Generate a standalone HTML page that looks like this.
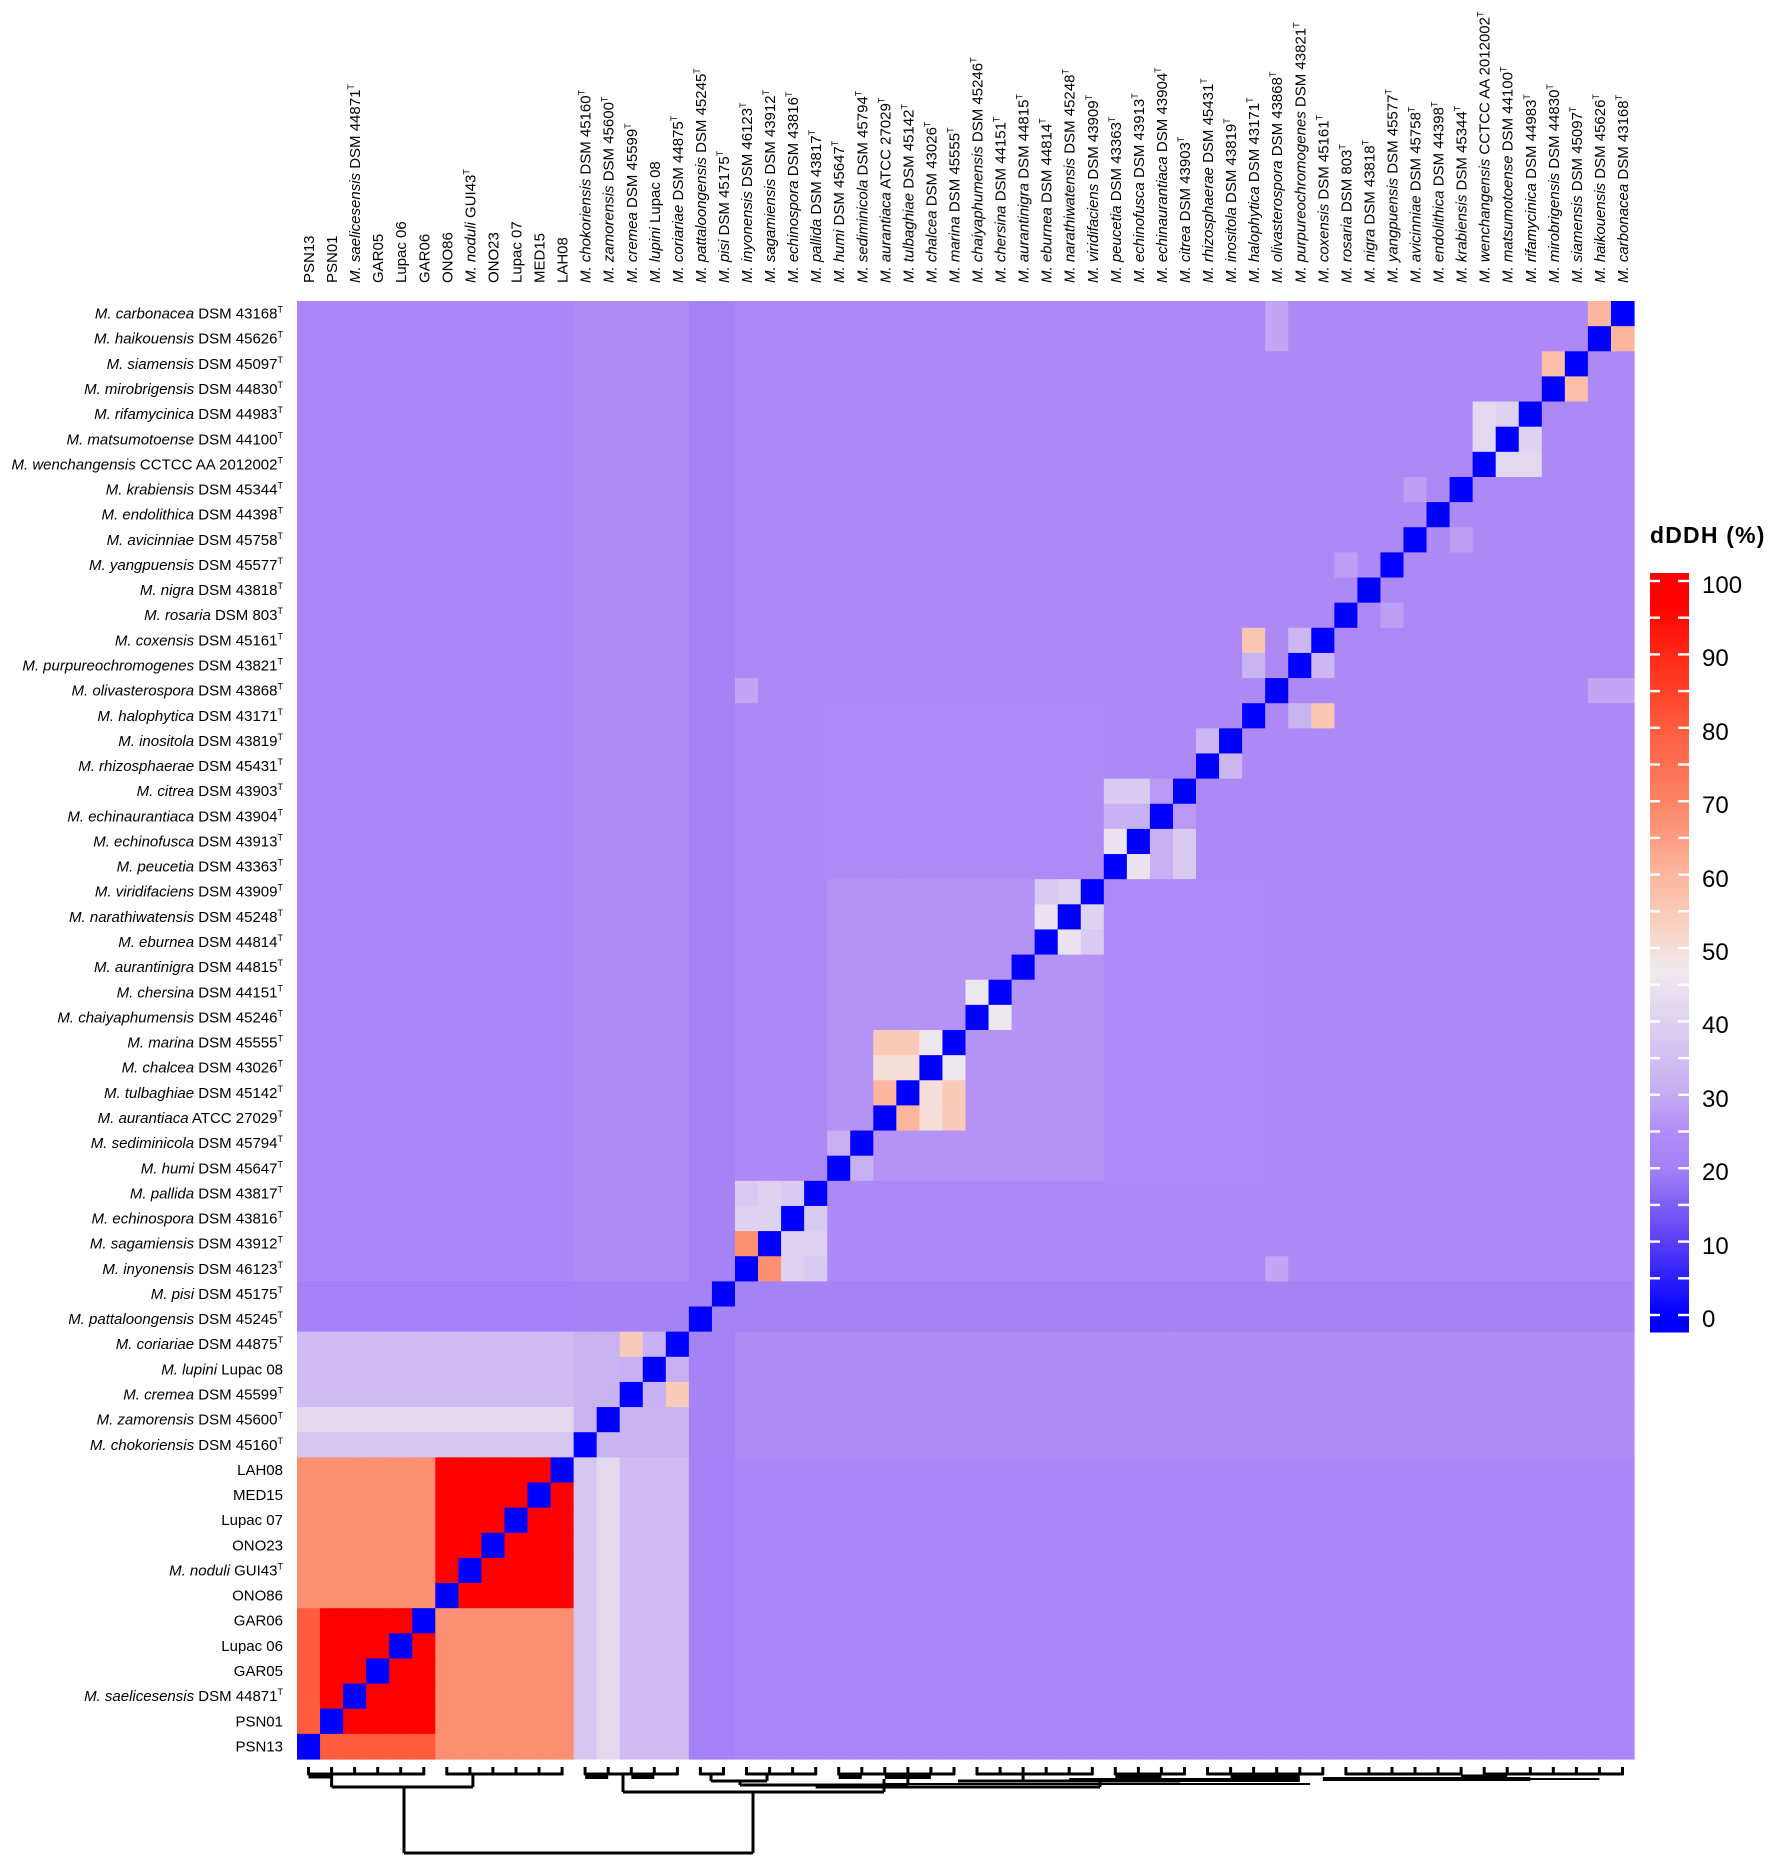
<!DOCTYPE html>
<html><head><meta charset="utf-8">
<style>
html,body{margin:0;padding:0;background:#fff;}
svg{display:block;}
text{font-family:"Liberation Sans",Arial,sans-serif;fill:#000;}
.rl{font-size:15px;text-anchor:end;}
.cl{font-size:15px;}
</style></head>
<body>
<svg id="s" width="1772" height="1857" viewBox="0 0 1772 1857" xmlns="http://www.w3.org/2000/svg">
<g id="cells"></g>
<g id="dend" stroke="#000" stroke-width="3" fill="none"></g>
<g id="cbar"></g>
<text x="1650" y="543" style="font-size:23px;font-weight:bold;letter-spacing:1.2px">dDDH (%)</text>
<g style="font-size:24px">
<text x="1702" y="593">100</text>
<text x="1702" y="666">90</text>
<text x="1702" y="740">80</text>
<text x="1702" y="813">70</text>
<text x="1702" y="887">60</text>
<text x="1702" y="960">50</text>
<text x="1702" y="1033">40</text>
<text x="1702" y="1107">30</text>
<text x="1702" y="1180">20</text>
<text x="1702" y="1254">10</text>
<text x="1702" y="1327">0</text>
</g>
<g id="rows" class="rl">
<text><tspan font-style="italic">M. carbonacea</tspan> DSM 43168<tspan font-size="9" dy="-6">T</tspan></text>
<text><tspan font-style="italic">M. haikouensis</tspan> DSM 45626<tspan font-size="9" dy="-6">T</tspan></text>
<text><tspan font-style="italic">M. siamensis</tspan> DSM 45097<tspan font-size="9" dy="-6">T</tspan></text>
<text><tspan font-style="italic">M. mirobrigensis</tspan> DSM 44830<tspan font-size="9" dy="-6">T</tspan></text>
<text><tspan font-style="italic">M. rifamycinica</tspan> DSM 44983<tspan font-size="9" dy="-6">T</tspan></text>
<text><tspan font-style="italic">M. matsumotoense</tspan> DSM 44100<tspan font-size="9" dy="-6">T</tspan></text>
<text><tspan font-style="italic">M. wenchangensis</tspan> CCTCC AA 2012002<tspan font-size="9" dy="-6">T</tspan></text>
<text><tspan font-style="italic">M. krabiensis</tspan> DSM 45344<tspan font-size="9" dy="-6">T</tspan></text>
<text><tspan font-style="italic">M. endolithica</tspan> DSM 44398<tspan font-size="9" dy="-6">T</tspan></text>
<text><tspan font-style="italic">M. avicinniae</tspan> DSM 45758<tspan font-size="9" dy="-6">T</tspan></text>
<text><tspan font-style="italic">M. yangpuensis</tspan> DSM 45577<tspan font-size="9" dy="-6">T</tspan></text>
<text><tspan font-style="italic">M. nigra</tspan> DSM 43818<tspan font-size="9" dy="-6">T</tspan></text>
<text><tspan font-style="italic">M. rosaria</tspan> DSM 803<tspan font-size="9" dy="-6">T</tspan></text>
<text><tspan font-style="italic">M. coxensis</tspan> DSM 45161<tspan font-size="9" dy="-6">T</tspan></text>
<text><tspan font-style="italic">M. purpureochromogenes</tspan> DSM 43821<tspan font-size="9" dy="-6">T</tspan></text>
<text><tspan font-style="italic">M. olivasterospora</tspan> DSM 43868<tspan font-size="9" dy="-6">T</tspan></text>
<text><tspan font-style="italic">M. halophytica</tspan> DSM 43171<tspan font-size="9" dy="-6">T</tspan></text>
<text><tspan font-style="italic">M. inositola</tspan> DSM 43819<tspan font-size="9" dy="-6">T</tspan></text>
<text><tspan font-style="italic">M. rhizosphaerae</tspan> DSM 45431<tspan font-size="9" dy="-6">T</tspan></text>
<text><tspan font-style="italic">M. citrea</tspan> DSM 43903<tspan font-size="9" dy="-6">T</tspan></text>
<text><tspan font-style="italic">M. echinaurantiaca</tspan> DSM 43904<tspan font-size="9" dy="-6">T</tspan></text>
<text><tspan font-style="italic">M. echinofusca</tspan> DSM 43913<tspan font-size="9" dy="-6">T</tspan></text>
<text><tspan font-style="italic">M. peucetia</tspan> DSM 43363<tspan font-size="9" dy="-6">T</tspan></text>
<text><tspan font-style="italic">M. viridifaciens</tspan> DSM 43909<tspan font-size="9" dy="-6">T</tspan></text>
<text><tspan font-style="italic">M. narathiwatensis</tspan> DSM 45248<tspan font-size="9" dy="-6">T</tspan></text>
<text><tspan font-style="italic">M. eburnea</tspan> DSM 44814<tspan font-size="9" dy="-6">T</tspan></text>
<text><tspan font-style="italic">M. aurantinigra</tspan> DSM 44815<tspan font-size="9" dy="-6">T</tspan></text>
<text><tspan font-style="italic">M. chersina</tspan> DSM 44151<tspan font-size="9" dy="-6">T</tspan></text>
<text><tspan font-style="italic">M. chaiyaphumensis</tspan> DSM 45246<tspan font-size="9" dy="-6">T</tspan></text>
<text><tspan font-style="italic">M. marina</tspan> DSM 45555<tspan font-size="9" dy="-6">T</tspan></text>
<text><tspan font-style="italic">M. chalcea</tspan> DSM 43026<tspan font-size="9" dy="-6">T</tspan></text>
<text><tspan font-style="italic">M. tulbaghiae</tspan> DSM 45142<tspan font-size="9" dy="-6">T</tspan></text>
<text><tspan font-style="italic">M. aurantiaca</tspan> ATCC 27029<tspan font-size="9" dy="-6">T</tspan></text>
<text><tspan font-style="italic">M. sediminicola</tspan> DSM 45794<tspan font-size="9" dy="-6">T</tspan></text>
<text><tspan font-style="italic">M. humi</tspan> DSM 45647<tspan font-size="9" dy="-6">T</tspan></text>
<text><tspan font-style="italic">M. pallida</tspan> DSM 43817<tspan font-size="9" dy="-6">T</tspan></text>
<text><tspan font-style="italic">M. echinospora</tspan> DSM 43816<tspan font-size="9" dy="-6">T</tspan></text>
<text><tspan font-style="italic">M. sagamiensis</tspan> DSM 43912<tspan font-size="9" dy="-6">T</tspan></text>
<text><tspan font-style="italic">M. inyonensis</tspan> DSM 46123<tspan font-size="9" dy="-6">T</tspan></text>
<text><tspan font-style="italic">M. pisi</tspan> DSM 45175<tspan font-size="9" dy="-6">T</tspan></text>
<text><tspan font-style="italic">M. pattaloongensis</tspan> DSM 45245<tspan font-size="9" dy="-6">T</tspan></text>
<text><tspan font-style="italic">M. coriariae</tspan> DSM 44875<tspan font-size="9" dy="-6">T</tspan></text>
<text><tspan font-style="italic">M. lupini</tspan> Lupac 08</text>
<text><tspan font-style="italic">M. cremea</tspan> DSM 45599<tspan font-size="9" dy="-6">T</tspan></text>
<text><tspan font-style="italic">M. zamorensis</tspan> DSM 45600<tspan font-size="9" dy="-6">T</tspan></text>
<text><tspan font-style="italic">M. chokoriensis</tspan> DSM 45160<tspan font-size="9" dy="-6">T</tspan></text>
<text>LAH08</text>
<text>MED15</text>
<text>Lupac 07</text>
<text>ONO23</text>
<text><tspan font-style="italic">M. noduli</tspan> GUI43<tspan font-size="9" dy="-6">T</tspan></text>
<text>ONO86</text>
<text>GAR06</text>
<text>Lupac 06</text>
<text>GAR05</text>
<text><tspan font-style="italic">M. saelicesensis</tspan> DSM 44871<tspan font-size="9" dy="-6">T</tspan></text>
<text>PSN01</text>
<text>PSN13</text>
</g>
<g id="cols" class="cl">
<text>PSN13</text>
<text>PSN01</text>
<text><tspan font-style="italic">M. saelicesensis</tspan> DSM 44871<tspan font-size="9" dy="-6">T</tspan></text>
<text>GAR05</text>
<text>Lupac 06</text>
<text>GAR06</text>
<text>ONO86</text>
<text><tspan font-style="italic">M. noduli</tspan> GUI43<tspan font-size="9" dy="-6">T</tspan></text>
<text>ONO23</text>
<text>Lupac 07</text>
<text>MED15</text>
<text>LAH08</text>
<text><tspan font-style="italic">M. chokoriensis</tspan> DSM 45160<tspan font-size="9" dy="-6">T</tspan></text>
<text><tspan font-style="italic">M. zamorensis</tspan> DSM 45600<tspan font-size="9" dy="-6">T</tspan></text>
<text><tspan font-style="italic">M. cremea</tspan> DSM 45599<tspan font-size="9" dy="-6">T</tspan></text>
<text><tspan font-style="italic">M. lupini</tspan> Lupac 08</text>
<text><tspan font-style="italic">M. coriariae</tspan> DSM 44875<tspan font-size="9" dy="-6">T</tspan></text>
<text><tspan font-style="italic">M. pattaloongensis</tspan> DSM 45245<tspan font-size="9" dy="-6">T</tspan></text>
<text><tspan font-style="italic">M. pisi</tspan> DSM 45175<tspan font-size="9" dy="-6">T</tspan></text>
<text><tspan font-style="italic">M. inyonensis</tspan> DSM 46123<tspan font-size="9" dy="-6">T</tspan></text>
<text><tspan font-style="italic">M. sagamiensis</tspan> DSM 43912<tspan font-size="9" dy="-6">T</tspan></text>
<text><tspan font-style="italic">M. echinospora</tspan> DSM 43816<tspan font-size="9" dy="-6">T</tspan></text>
<text><tspan font-style="italic">M. pallida</tspan> DSM 43817<tspan font-size="9" dy="-6">T</tspan></text>
<text><tspan font-style="italic">M. humi</tspan> DSM 45647<tspan font-size="9" dy="-6">T</tspan></text>
<text><tspan font-style="italic">M. sediminicola</tspan> DSM 45794<tspan font-size="9" dy="-6">T</tspan></text>
<text><tspan font-style="italic">M. aurantiaca</tspan> ATCC 27029<tspan font-size="9" dy="-6">T</tspan></text>
<text><tspan font-style="italic">M. tulbaghiae</tspan> DSM 45142<tspan font-size="9" dy="-6">T</tspan></text>
<text><tspan font-style="italic">M. chalcea</tspan> DSM 43026<tspan font-size="9" dy="-6">T</tspan></text>
<text><tspan font-style="italic">M. marina</tspan> DSM 45555<tspan font-size="9" dy="-6">T</tspan></text>
<text><tspan font-style="italic">M. chaiyaphumensis</tspan> DSM 45246<tspan font-size="9" dy="-6">T</tspan></text>
<text><tspan font-style="italic">M. chersina</tspan> DSM 44151<tspan font-size="9" dy="-6">T</tspan></text>
<text><tspan font-style="italic">M. aurantinigra</tspan> DSM 44815<tspan font-size="9" dy="-6">T</tspan></text>
<text><tspan font-style="italic">M. eburnea</tspan> DSM 44814<tspan font-size="9" dy="-6">T</tspan></text>
<text><tspan font-style="italic">M. narathiwatensis</tspan> DSM 45248<tspan font-size="9" dy="-6">T</tspan></text>
<text><tspan font-style="italic">M. viridifaciens</tspan> DSM 43909<tspan font-size="9" dy="-6">T</tspan></text>
<text><tspan font-style="italic">M. peucetia</tspan> DSM 43363<tspan font-size="9" dy="-6">T</tspan></text>
<text><tspan font-style="italic">M. echinofusca</tspan> DSM 43913<tspan font-size="9" dy="-6">T</tspan></text>
<text><tspan font-style="italic">M. echinaurantiaca</tspan> DSM 43904<tspan font-size="9" dy="-6">T</tspan></text>
<text><tspan font-style="italic">M. citrea</tspan> DSM 43903<tspan font-size="9" dy="-6">T</tspan></text>
<text><tspan font-style="italic">M. rhizosphaerae</tspan> DSM 45431<tspan font-size="9" dy="-6">T</tspan></text>
<text><tspan font-style="italic">M. inositola</tspan> DSM 43819<tspan font-size="9" dy="-6">T</tspan></text>
<text><tspan font-style="italic">M. halophytica</tspan> DSM 43171<tspan font-size="9" dy="-6">T</tspan></text>
<text><tspan font-style="italic">M. olivasterospora</tspan> DSM 43868<tspan font-size="9" dy="-6">T</tspan></text>
<text><tspan font-style="italic">M. purpureochromogenes</tspan> DSM 43821<tspan font-size="9" dy="-6">T</tspan></text>
<text><tspan font-style="italic">M. coxensis</tspan> DSM 45161<tspan font-size="9" dy="-6">T</tspan></text>
<text><tspan font-style="italic">M. rosaria</tspan> DSM 803<tspan font-size="9" dy="-6">T</tspan></text>
<text><tspan font-style="italic">M. nigra</tspan> DSM 43818<tspan font-size="9" dy="-6">T</tspan></text>
<text><tspan font-style="italic">M. yangpuensis</tspan> DSM 45577<tspan font-size="9" dy="-6">T</tspan></text>
<text><tspan font-style="italic">M. avicinniae</tspan>  DSM  45758<tspan font-size="9" dy="-6">T</tspan></text>
<text><tspan font-style="italic">M. endolithica</tspan>  DSM  44398<tspan font-size="9" dy="-6">T</tspan></text>
<text><tspan font-style="italic">M. krabiensis</tspan> DSM 45344<tspan font-size="9" dy="-6">T</tspan></text>
<text><tspan font-style="italic">M. wenchangensis</tspan> CCTCC AA 2012002<tspan font-size="9" dy="-6">T</tspan></text>
<text><tspan font-style="italic">M. matsumotoense</tspan> DSM 44100<tspan font-size="9" dy="-6">T</tspan></text>
<text><tspan font-style="italic">M. rifamycinica</tspan> DSM 44983<tspan font-size="9" dy="-6">T</tspan></text>
<text><tspan font-style="italic">M. mirobrigensis</tspan> DSM 44830<tspan font-size="9" dy="-6">T</tspan></text>
<text><tspan font-style="italic">M. siamensis</tspan> DSM 45097<tspan font-size="9" dy="-6">T</tspan></text>
<text><tspan font-style="italic">M. haikouensis</tspan> DSM 45626<tspan font-size="9" dy="-6">T</tspan></text>
<text><tspan font-style="italic">M. carbonacea</tspan> DSM 43168<tspan font-size="9" dy="-6">T</tspan></text>
</g>
</svg>
<script>
(function(){
var X0=297,Y0=301,CW=(1634-297)/58,RH=(1759-301)/58,N=58;
function cx(i){return X0+CW*(i+0.5);}
document.querySelectorAll('#rows text').forEach(function(t,r){t.setAttribute('x',283);t.setAttribute('y',(Y0+RH*(r+0.5)+5).toFixed(1));});
document.querySelectorAll('#cols text').forEach(function(t,c){t.setAttribute('transform','translate('+(cx(c)+5.5).toFixed(1)+',283) rotate(-90)');});
var A=[[0,[0,0,255]],[10,[90,62,246]],[20,[162,130,245]],[25,[177,140,246]],[30,[196,172,243]],[40,[221,210,240]],[47,[240,234,238]],[52,[247,214,200]],[60,[252,182,158]],[70,[252,132,102]],[80,[255,92,62]],[90,[255,40,22]],[97,[255,0,0]],[100,[255,0,0]]];
function col(v){for(var k=1;k<A.length;k++){if(v<=A[k][0]){var a=A[k-1],b=A[k],t=(v-a[0])/(b[0]-a[0]);return 'rgb('+[0,1,2].map(function(q){return Math.round(a[1][q]+(b[1][q]-a[1][q])*t);}).join(',')+')';}}return 'rgb(255,0,0)';}
var P={};
function sp(a,b,v){P[Math.min(a,b)+'_'+Math.max(a,b)]=v;}
sp(25,26,60);sp(25,27,50);sp(26,27,50);sp(25,28,55);sp(26,28,55);sp(27,28,46);
sp(29,30,46);sp(32,33,45);sp(33,34,40);sp(32,34,38);
sp(35,36,45);sp(35,38,38);sp(36,38,38);sp(37,35,31);sp(37,36,31);
sp(39,40,33);sp(41,44,56);sp(41,43,32);sp(43,44,33);
sp(51,52,42);sp(51,53,42);sp(52,53,40);sp(54,55,58);sp(56,57,60);
sp(19,20,68);sp(19,21,40);sp(19,22,38);sp(20,21,40);sp(20,22,40);sp(21,22,38);
sp(23,24,31);sp(42,57,29);sp(42,56,29);sp(19,42,29);sp(45,47,28);sp(48,50,28);
function val(i,j){
 if(i==j)return 0;
 var a=Math.min(i,j),b=Math.max(i,j);
 if(P[a+'_'+b]!==undefined)return P[a+'_'+b];
 if(b<=5)return a==0?80:97;
 if(a>=6&&b<=11)return 97;
 if(a<=5&&b<=11)return 68;
 if(a<=11){if(b==12)return 37;if(b==13)return 42;if(b<=16)return 34;if(b<=18)return 20;return 22.5;}
 if(a<=16){if(b<=16){if(a==14&&b==16)return 55;if(a==12||a==13)return 32;return 31;}if(b<=18)return 20.5;return 24.5;}
 if(a<=18)return 20.5;
 if(a>=23&&b<=34){return 26;}
 if(a>=35&&b<=38)return 27;
 if(a>=19&&b<=22)return 34;
 if(a>=23&&a<=34&&b<=41)return 24;
 return 23.5;
}
var h='';
for(var r=0;r<N;r++){var i=N-1-r;for(var c=0;c<N;c++){
 h+='<rect x="'+(X0+c*CW).toFixed(2)+'" y="'+(Y0+r*RH).toFixed(2)+'" width="'+(CW+0.6).toFixed(2)+'" height="'+(RH+0.6).toFixed(2)+'" fill="'+col(val(i,c))+'"/>';}}
document.getElementById('cells').innerHTML=h;
var cb='',top=573,bot=1332,y100=581,y0=1315;
for(var y=top;y<bot;y+=3){var v=100-(y+1.5-y100)/(y0-y100)*100;v=Math.max(0,Math.min(100,v));cb+='<rect x="1650" y="'+y+'" width="39" height="3.5" fill="'+col(v)+'"/>';}
for(var k=0;k<=20;k++){var yy=y100+k*(y0-y100)/20;cb+='<rect x="1650" y="'+(yy-1.2)+'" width="10" height="2.4" fill="#fff"/><rect x="1678" y="'+(yy-1.2)+'" width="11" height="2.4" fill="#fff"/>';}
document.getElementById('cbar').innerHTML=cb;
var d='';
function L(x1,y1,x2,y2,w){d+='<line x1="'+x1.toFixed(1)+'" y1="'+y1+'" x2="'+x2.toFixed(1)+'" y2="'+y2+'"'+(w?' stroke-width="'+w+'"':'')+'/>';}
for(var c=0;c<N;c++)L(cx(c),1767,cx(c),1775);
[[0,5],[6,11],[12,16],[17,18],[19,22],[23,28],[29,34],[35,38],[39,44],[45,50],[51,57]].forEach(function(gr){L(cx(gr[0])-1,1774,cx(gr[1])+1,1774);});
L(cx(0),1777,cx(1),1777);
L(cx(12),1777,cx(13),1777,4);L(cx(14),1777,cx(15),1777,4);
L(cx(23),1777,cx(24),1777,4);L(cx(25),1777,cx(27),1777,4);
L(cx(35),1777,cx(37),1777,3);L(cx(44),1779,cx(53),1779,4);L(cx(33),1780,cx(43),1780,4);
var xa=cx(1),xb=cx(7)+3;L(xa,1774,xa,1787);L(xb,1774,xb,1787);L(xa,1787,xb,1787);
var xab=404;L(xab,1787,xab,1853);
var xc=623;L(xc,1774,xc,1792);
var xd=711;L(xd,1774,xd,1781);var xe=767;L(xe,1774,xe,1781);L(xd,1781,xe,1781);
var xde=740;L(xde,1781,xde,1785);L(xde,1785,cx(26),1785);L(cx(26),1774,cx(26),1785);
var xde2=884;L(xde2,1779,xde2,1792);L(xc,1792,xde2,1792);
L(cx(28)+4,1781,1180,1781);L(cx(31),1774,cx(31),1781);L(1180,1779,1180,1781);
L(cx(45),1779,cx(56),1779,2);L(cx(50),1776,cx(52),1776,3);L(cx(40),1777,cx(43),1777,3);
L(753,1792,753,1853);L(xab,1853,753,1853);
L(cx(22),1787,1100,1787);L(1100,1780,1100,1787);L(cx(25),1784,1310,1784,2);
document.getElementById('dend').innerHTML=d;
})();
</script>
</body></html>
